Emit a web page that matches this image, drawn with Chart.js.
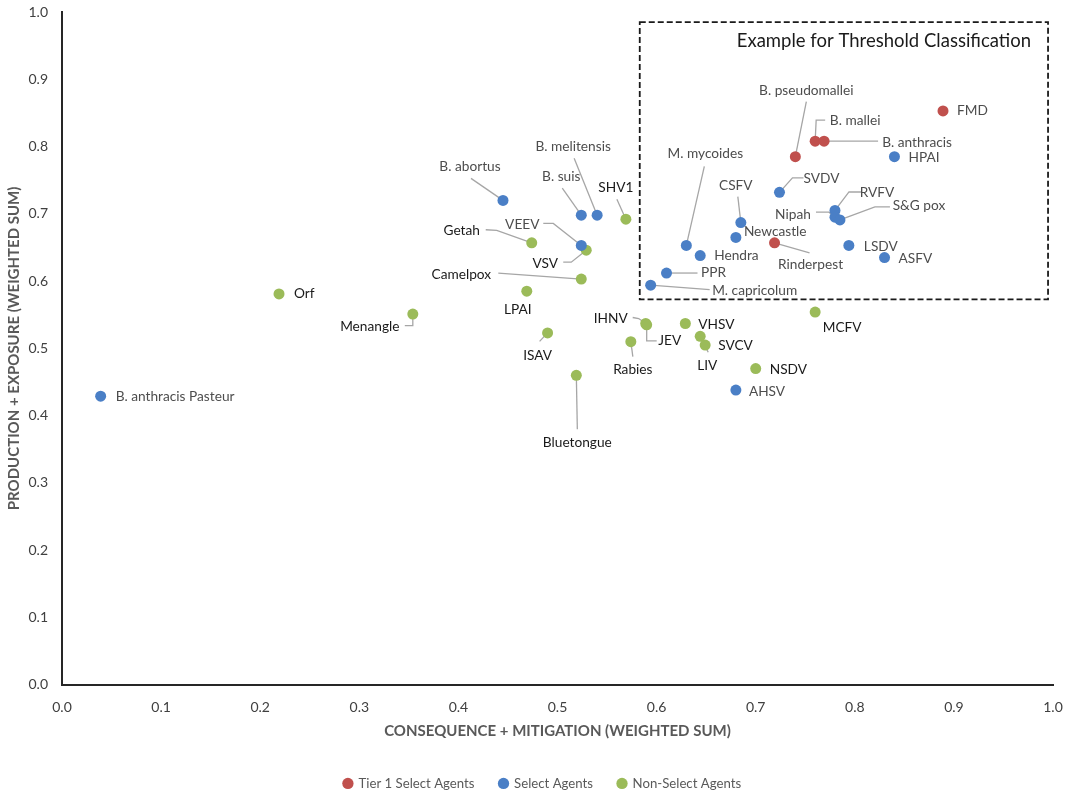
<!DOCTYPE html>
<html>
<head>
<meta charset="utf-8">
<title>Threshold classification</title>
<script src="https://cdn.jsdelivr.net/npm/chart.js@4.4.1/dist/chart.umd.min.js"></script>
<style>
  html, body { margin: 0; padding: 0; background: #fff; }
  #wrap { width: 1065px; height: 794px; position: relative; }
</style>
</head>
<body>
<div id="wrap"><canvas id="chart"></canvas></div>
<script>
// Tier 1 select agents
const tier1Names = ['FMD', 'B. mallei', 'B. anthracis', 'B. pseudomallei', 'Rinderpest'];
const tier1X = [0.889, 0.760, 0.769, 0.740, 0.719];
const tier1Y = [0.853, 0.808, 0.808, 0.785, 0.657];

// Select agents
const selectNames = ['HPAI', 'SVDV', 'RVFV', 'Nipah', 'S&G pox', 'CSFV', 'Newcastle', 'M. mycoides',
  'Hendra', 'PPR', 'M. capricolum', 'LSDV', 'ASFV', 'AHSV', 'B. abortus', 'B. suis',
  'B. melitensis', 'VEEV', 'B. anthracis Pasteur'];
const selectX = [0.840, 0.724, 0.780, 0.780, 0.785, 0.685, 0.680, 0.630,
  0.644, 0.610, 0.594, 0.794, 0.830, 0.680, 0.445, 0.524,
  0.540, 0.524, 0.039];
const selectY = [0.785, 0.732, 0.705, 0.695, 0.691, 0.687, 0.665, 0.653,
  0.638, 0.612, 0.594, 0.653, 0.635, 0.438, 0.720, 0.698,
  0.698, 0.653, 0.429];

// Non-select agents
const nonSelectNames = ['SHV1', 'Getah', 'VSV', 'Camelpox', 'LPAI', 'Orf', 'Menangle', 'ISAV',
  'Bluetongue', 'IHNV', 'JEV', 'Rabies', 'VHSV', 'LIV', 'SVCV', 'NSDV', 'MCFV'];
const nonSelectX = [0.569, 0.474, 0.529, 0.524, 0.469, 0.219, 0.354, 0.490,
  0.519, 0.589, 0.590, 0.574, 0.629, 0.644, 0.649, 0.700, 0.760];
const nonSelectY = [0.692, 0.657, 0.646, 0.603, 0.585, 0.581, 0.551, 0.523,
  0.460, 0.537, 0.535, 0.510, 0.537, 0.518, 0.505, 0.470, 0.554];

// axis ticks and the dashed "example" region (data units: x0, x1, y0, y1)
const tickValues = [0, 0.1, 0.2, 0.3, 0.4, 0.5, 0.6, 0.7, 0.8, 0.9, 1.0];
const thresholdBox = [0.583, 0.995, 0.573, 0.985];
const boxTitle = 'Example for Threshold Classification';

// label placement: [dx, dy, align, leader bends] in pixels from the point
const labelSpots = {
  'FMD': [14, 0, 'left'],
  'B. mallei': [40, -21, 'center', [[10, -21], [1, -21]]],
  'B. anthracis': [93, 1, 'center', [[54, 0]]],
  'B. pseudomallei': [11, -66, 'center', [[11, -55]]],
  'Rinderpest': [36, 22, 'center', [[35, 10]]],
  'HPAI': [14, 1, 'left'],
  'SVDV': [42, -14, 'center', [[24, -14.5], [13, -14.5]]],
  'RVFV': [42, -18, 'center', [[26, -18.5], [14, -18.5]]],
  'Nipah': [-42, -3, 'center', [[-19, -5], [-6, -5]]],
  'S&G pox': [79, -14, 'center', [[50, -13], [35, -13]]],
  'CSFV': [-5, -37, 'center', [[-3, -26]]],
  'Newcastle': [8, -6, 'left'],
  'M. mycoides': [19, -92, 'center', [[18, -79]]],
  'Hendra': [14, 0, 'left'],
  'PPR': [47, 0, 'center', [[31, 0]]],
  'M. capricolum': [104, 5, 'center', [[59, 4.5]]],
  'LSDV': [15, 1, 'left'],
  'ASFV': [14, 1, 'left'],
  'AHSV': [13, 1, 'left'],
  'B. abortus': [-33, -34, 'center', [[-32, -22]]],
  'B. suis': [-20, -39, 'center', [[-19, -27]]],
  'B. melitensis': [-24, -69, 'center', [[-23, -57]]],
  'VEEV': [-59, -21, 'center', [[-38, -22], [-28, -22]]],
  'B. anthracis Pasteur': [15, 0, 'left'],
  'SHV1': [-10, -32, 'center', [[-9, -20]]],
  'Getah': [-70, -12, 'center', [[-46, -13], [-35, -12.5]]],
  'VSV': [-41, 13, 'center', [[-23, 12], [-15, 12]]],
  'Camelpox': [-120, -5, 'center', [[-83, -6]]],
  'LPAI': [-9, 18, 'center'],
  'Orf': [15, 0, 'left'],
  'Menangle': [-43, 12, 'center', [[-8, 11.5], [0, 11.5]]],
  'ISAV': [-10, 23, 'center', [[-8, 8.5]]],
  'Bluetongue': [1, 67, 'center', [[1, 54]]],
  'IHNV': [-35, -5, 'center', [[-13, -6], [-7, -5]]],
  'JEV': [23, 16, 'center', [[10, 16], [0, 16]]],
  'Rabies': [2, 28, 'center', [[2, 15]]],
  'VHSV': [13, 1, 'left'],
  'LIV': [7, 29, 'center', [[8, 16]]],
  'SVCV': [13, 1, 'left'],
  'NSDV': [14, 1, 'left'],
  'MCFV': [27, 16, 'center']
};

const FONT = 'Lato, "Open Sans", sans-serif';

function toPoints(xs, ys) {
  return xs.map((x, i) => ({ x: x, y: ys[i] }));
}

// Draw leader lines under the dots, labels and dashed box on top
const agentLabels = {
  id: 'agentLabels',
  afterLayout(chart) {
    // legend sits a little right of the canvas centre in the original
    chart.legend.left += 16;
    chart.legend.right += 16;
  },
  beforeDatasetsDraw(chart) {
    const ctx = chart.ctx;
    ctx.save();
    ctx.strokeStyle = '#a6a6a6';
    ctx.lineWidth = 1.3;
    chart.data.datasets.forEach((ds, i) => {
      const meta = chart.getDatasetMeta(i);
      meta.data.forEach((pt, j) => {
        const spot = labelSpots[ds.names[j]];
        if (!spot || !spot[3]) return;
        ctx.beginPath();
        ctx.moveTo(pt.x + spot[3][0][0], pt.y + spot[3][0][1]);
        spot[3].slice(1).forEach(b => ctx.lineTo(pt.x + b[0], pt.y + b[1]));
        ctx.lineTo(pt.x, pt.y);
        ctx.stroke();
      });
    });
    ctx.restore();
  },
  afterDatasetsDraw(chart) {
    const ctx = chart.ctx;
    const xs = chart.scales.x, ys = chart.scales.y;
    ctx.save();
    ctx.font = '13.7px ' + FONT;
    ctx.textBaseline = 'middle';
    chart.data.datasets.forEach((ds, i) => {
      const meta = chart.getDatasetMeta(i);
      ctx.fillStyle = ds.labelColor;
      meta.data.forEach((pt, j) => {
        const spot = labelSpots[ds.names[j]];
        if (!spot) return;
        ctx.textAlign = spot[2];
        ctx.fillText(ds.names[j], pt.x + spot[0], pt.y + spot[1]);
      });
    });

    // dashed example box
    const left = xs.getPixelForValue(thresholdBox[0]);
    const right = xs.getPixelForValue(thresholdBox[1]);
    const bottom = ys.getPixelForValue(thresholdBox[2]);
    const top = ys.getPixelForValue(thresholdBox[3]);
    ctx.strokeStyle = '#1a1a1a';
    ctx.lineWidth = 1.8;
    ctx.setLineDash([6, 3]);
    ctx.strokeRect(left, top, right - left, bottom - top);
    ctx.setLineDash([]);
    ctx.fillStyle = '#1a1a1a';
    ctx.font = '18.5px ' + FONT;
    ctx.textAlign = 'right';
    ctx.fillText(boxTitle, right - 17, top + 19);
    ctx.restore();
  }
};

const axisTicks = {
  color: '#404040',
  font: { family: FONT, size: 14 },
  padding: 14,
  callback: v => v.toFixed(1)
};

const ctx = document.getElementById('chart').getContext('2d');
new Chart(ctx, {
  type: 'scatter',
  data: {
    datasets: [
      { label: 'Tier 1 Select Agents', data: toPoints(tier1X, tier1Y), names: tier1Names,
        backgroundColor: '#c0504d', borderColor: '#c0504d', labelColor: '#4d4d4d' },
      { label: 'Select Agents', data: toPoints(selectX, selectY), names: selectNames,
        backgroundColor: '#4a7fc6', borderColor: '#4a7fc6', labelColor: '#4d4d4d' },
      { label: 'Non-Select Agents', data: toPoints(nonSelectX, nonSelectY), names: nonSelectNames,
        backgroundColor: '#9bbb59', borderColor: '#9bbb59', labelColor: '#1a1a1a' }
    ]
  },
  options: {
    responsive: true,
    maintainAspectRatio: false,
    animation: false,
    elements: { point: { radius: 5.5, borderWidth: 0, hoverRadius: 5.5 } },
    layout: { padding: { top: 12, right: 12, left: 0, bottom: -6 } },
    plugins: {
      tooltip: { enabled: false },
      legend: {
        position: 'bottom',
        labels: {
          usePointStyle: true,
          pointStyle: 'circle',
          boxWidth: 8,
          boxHeight: 8,
          padding: 25,
          color: '#595959',
          font: { family: FONT, size: 13.2 }
        }
      }
    },
    scales: {
      x: {
        type: 'linear',
        min: 0,
        max: 1,
        afterBuildTicks: s => { s.ticks = tickValues.map(v => ({ value: v })); },
        ticks: axisTicks,
        grid: { display: false, drawTicks: false },
        border: { display: true, color: '#262626', width: 2 },
        afterFit: s => { s.height = 67; s.paddingLeft = 0; s.paddingRight = 0; },
        title: {
          display: true,
          text: 'CONSEQUENCE + MITIGATION (WEIGHTED SUM)',
          color: '#595959',
          font: { family: FONT, size: 15, weight: 'bold' },
          padding: { top: 0, bottom: 12 }
        }
      },
      y: {
        type: 'linear',
        min: 0,
        max: 1,
        afterBuildTicks: s => { s.ticks = tickValues.map(v => ({ value: v })); },
        ticks: axisTicks,
        grid: { display: false, drawTicks: false },
        border: { display: true, color: '#262626', width: 2 },
        afterFit: s => { s.width = 62; s.paddingTop = 0; s.paddingBottom = 0; },
        title: {
          display: true,
          text: 'PRODUCTION + EXPOSURE (WEIGHTED SUM)',
          color: '#595959',
          font: { family: FONT, size: 15, weight: 'bold' },
          padding: { top: 5, bottom: 0 }
        }
      }
    }
  },
  plugins: [agentLabels]
});
</script>
</body>
</html>
